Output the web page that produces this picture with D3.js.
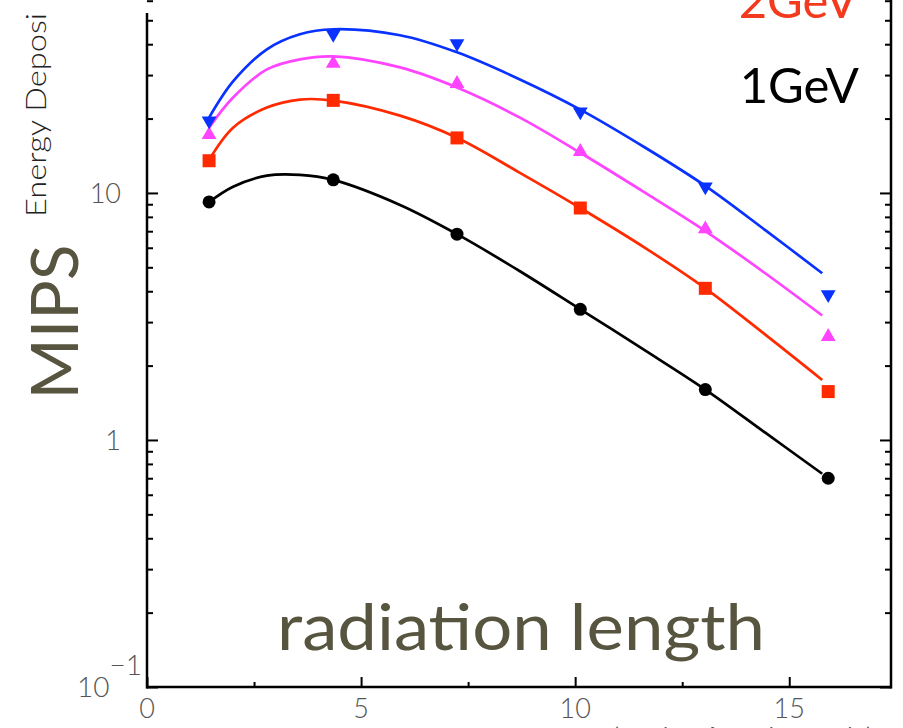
<!DOCTYPE html>
<html>
<head>
<script src="https://d3js.org/d3.v7.min.js"></script>
<style>
body { margin: 0; background: #fff; }
text { font-family: "Lato", "Open Sans", sans-serif; font-weight: 300; }
</style>
</head>
<body>
<svg id="chart" width="903" height="728"></svg>
<script>
// depth positions of the layers (radiation length)
const depthX = [1.45, 4.35, 7.24, 10.12, 13.04, 15.91];
// measured energy deposit (MIPS) per beam energy
const mips1 = [9.2, 11.3, 6.81, 3.38, 1.60, 0.70];
const mips2 = [13.5, 23.7, 16.7, 8.69, 4.11, 1.57];
const mips3 = [17.2, 33.4, 27.7, 14.7, 7.14, 2.62];
const mips4 = [19.6, 43.9, 40.3, 21.3, 10.6, 3.88];

// fitted shower curves
const curveX = [1.45, 2.01, 2.80, 3.57, 4.35, 5.91, 7.24, 8.71, 10.12, 11.64, 13.04, 14.44, 15.77];
const fit1 = [9.19, 10.6, 11.75, 11.84, 11.29, 8.94, 6.81, 4.82, 3.38, 2.30, 1.60, 1.07, 0.73];
const fit2 = [13.62, 18.38, 22.16, 23.88, 23.66, 20.56, 16.73, 12.06, 8.69, 5.98, 4.11, 2.67, 1.75];
const fit3 = [18.38, 24.33, 31.62, 34.73, 35.71, 32.22, 26.72, 20.18, 14.54, 10.0, 7.01, 4.73, 3.19];
const fit4 = [20.18, 28.27, 38.13, 43.88, 45.98, 43.47, 37.08, 28.80, 21.75, 15.24, 10.68, 7.07, 4.73];

const xTicks = [0, 5, 10, 15];
const xMinor = [2.5, 7.5, 12.5];
const yMajor = [0.1, 1, 10];

const series = [
    {name: "1GeV", pts: mips1, fit: fit1, color: "#000000", shape: "circle"},
    {name: "2GeV", pts: mips2, fit: fit2, color: "#ff2a00", shape: "square"},
    {name: "3GeV", pts: mips3, fit: fit3, color: "#ff44ff", shape: "up"},
    {name: "4GeV", pts: mips4, fit: fit4, color: "#0a32ff", shape: "down"}
];

const svg = d3.select("#chart");
const x = d3.scaleLinear().domain([0, 17.4]).range([147, 892]);
const y = d3.scaleLog().domain([0.1, 60.4]).range([687, 0]);

// minor log ticks
let yMinor = [];
for (let t of y.ticks()) {
    if (yMajor.indexOf(t) < 0) yMinor.push(t);
}

// left axis, ticks inward
svg.append("g").attr("transform", "translate(147,0)")
    .call(d3.axisRight(y).tickValues(yMajor).tickSize(11).tickFormat(""));
svg.append("g").attr("transform", "translate(147,0)")
    .call(d3.axisRight(y).tickValues(yMinor).tickSize(6).tickFormat(""));
// right axis
svg.append("g").attr("transform", "translate(891,0)")
    .call(d3.axisLeft(y).tickValues(yMajor).tickSize(11).tickFormat(""));
svg.append("g").attr("transform", "translate(891,0)")
    .call(d3.axisLeft(y).tickValues(yMinor).tickSize(6).tickFormat(""));
// bottom axis
svg.append("g").attr("transform", "translate(0,687)")
    .call(d3.axisTop(x).tickValues(xTicks).tickSize(10).tickFormat(""));
svg.append("g").attr("transform", "translate(0,687)")
    .call(d3.axisTop(x).tickValues(xMinor).tickSize(5).tickFormat(""));

svg.selectAll(".domain").remove();
svg.selectAll(".tick line").attr("stroke", "#000").attr("stroke-width", 2);

// frame lines
svg.append("line").attr("x1", 147).attr("x2", 147).attr("y1", 13).attr("y2", 688.5)
    .attr("stroke", "#000").attr("stroke-width", 2.5);
svg.append("line").attr("x1", 891).attr("x2", 891).attr("y1", 0).attr("y2", 688.5)
    .attr("stroke", "#000").attr("stroke-width", 2.5);
svg.append("line").attr("x1", 146).attr("x2", 892).attr("y1", 687).attr("y2", 687)
    .attr("stroke", "#000").attr("stroke-width", 2.5);

// tick labels
svg.selectAll(".xlab").data(xTicks).enter().append("text")
    .attr("x", d => x(d)).attr("y", 718)
    .attr("text-anchor", "middle").attr("font-size", 27).attr("fill", "#555")
    .text(d => d);
svg.append("text").attr("x", 121).attr("y", y(10) + 10)
    .attr("text-anchor", "end").attr("font-size", 27).attr("fill", "#555").text("10");
svg.append("text").attr("x", 121).attr("y", y(1) + 10)
    .attr("text-anchor", "end").attr("font-size", 27).attr("fill", "#555").text("1");
let lab = svg.append("text").attr("x", 77).attr("y", y(0.1) + 10)
    .attr("font-size", 28).attr("fill", "#555");
lab.append("tspan").text("10");
lab.append("tspan").attr("dy", -22).attr("font-size", 28).text("\u22121");

// fitted curves
const line = d3.line().x(d => x(d[0])).y(d => y(d[1])).curve(d3.curveCatmullRom.alpha(0.5));
for (let s of series) {
    svg.append("path")
        .attr("d", line(curveX.map((t, i) => [t, s.fit[i]])))
        .attr("fill", "none").attr("stroke", s.color).attr("stroke-width", 2.7);
}

// markers
for (let s of series) {
    let g = svg.append("g");
    let pts = depthX.map((t, i) => [t, s.pts[i]]);
    if (s.shape === "circle") {
        g.selectAll("circle").data(pts).enter().append("circle")
            .attr("cx", d => x(d[0])).attr("cy", d => y(d[1])).attr("r", 6.5)
            .attr("fill", s.color);
    } else if (s.shape === "square") {
        g.selectAll("rect").data(pts).enter().append("rect")
            .attr("x", d => x(d[0]) - 6.5).attr("y", d => y(d[1]) - 6.5)
            .attr("width", 13).attr("height", 13).attr("fill", s.color);
    } else {
        let rot = s.shape === "down" ? 180 : 0;
        g.selectAll("path").data(pts).enter().append("path")
            .attr("d", d3.symbol().type(d3.symbolTriangle).size(95))
            .attr("transform", d => "translate(" + x(d[0]) + "," + y(d[1]) + ") rotate(" + rot + ")")
            .attr("fill", s.color);
    }
}

// energy labels
svg.append("text").attr("x", 859).attr("y", 103).attr("text-anchor", "end")
    .attr("font-size", 49).style("font-weight", 400).attr("fill", "#000").text(series[0].name);
svg.append("text").attr("x", 858).attr("y", 18).attr("text-anchor", "end")
    .attr("font-size", 49).style("font-weight", 400).attr("fill", "#f43a1e").text(series[1].name);

// axis titles
svg.append("text").attr("transform", "translate(46,217) rotate(-90)")
    .attr("font-size", 27).attr("fill", "#222").attr("textLength", 204)
    .attr("lengthAdjust", "spacingAndGlyphs").text("Energy Deposi");
svg.append("text").attr("transform", "translate(78,322) rotate(-90)")
    .attr("text-anchor", "middle").attr("font-size", 66).style("font-weight", 400)
    .attr("fill", "#57553f").text("MIPS");
svg.append("text").attr("x", 277).attr("y", 650)
    .attr("font-size", 64).style("font-weight", 400).attr("fill", "#57553f").attr("textLength", 488)
    .attr("lengthAdjust", "spacingAndGlyphs").text("radiation length");
svg.append("text").attr("x", 610).attr("y", 746)
    .attr("font-size", 26).attr("fill", "#555").attr("textLength", 265)
    .attr("lengthAdjust", "spacingAndGlyphs").text("(radiation length)");
</script>
</body>
</html>
